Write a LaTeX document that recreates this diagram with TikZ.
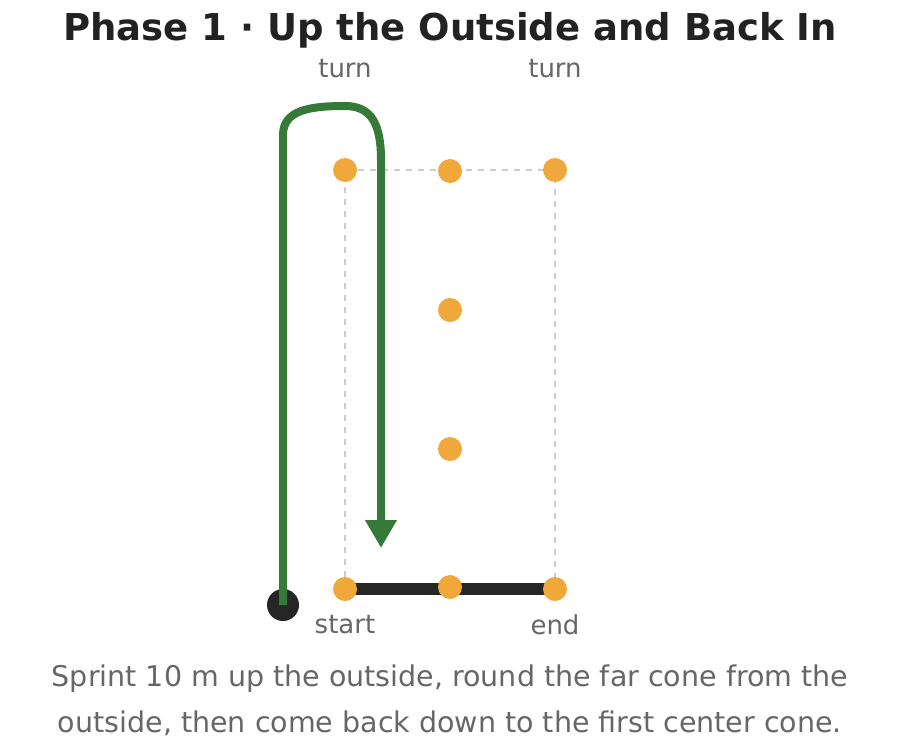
\documentclass[tikz,border=0pt]{standalone}
\usepackage{fontspec}
\setmainfont{DejaVu Sans}
\usetikzlibrary{arrows.meta, positioning}
\definecolor{coneorange}{HTML}{F0A83A}
\definecolor{pathgreen}{HTML}{357A38}
\definecolor{labelgray}{HTML}{666666}
\definecolor{titleblack}{HTML}{222222}
\begin{document}
\begin{tikzpicture}[
    x=1pt, y=-1pt,
    cone/.style={circle, fill=coneorange, minimum size=24pt, inner sep=0pt},
    lbl/.style={text=labelgray, font=\fontsize{26}{30}\selectfont},
    route/.style={draw=pathgreen, line width=8pt, line join=round}
]
\useasboundingbox (0,0) rectangle (900,755);

% Title
\node (title) [font=\fontsize{37}{42}\selectfont\bfseries, text=titleblack] at (450,30) {Phase 1 · Up the Outside and Back In};

% Grid outline
\draw[gray!40, line width=2.5pt, dash pattern=on 6pt off 6pt] (345,589) -- (345,170) -- (555,170) -- (555,589);
\draw[black!85, line width=12pt] (345,589) -- (555,589);

% Cones
\node (startCone) [cone] at (345,589) {};
\node (midBottom) [cone] at (450,587) {};
\node (endCone) [cone] at (555,589) {};
\node (midLow) [cone] at (450,449) {};
\node (midHigh) [cone] at (450,310) {};
\node (farLeft) [cone] at (345,170) {};
\node (farMid) [cone] at (450,171) {};
\node (farRight) [cone] at (555,170) {};

% Runner
\node (runner) [circle, fill=black!85, minimum size=32pt, inner sep=0pt] at (283,605) {};
\coordinate (stop) at (381,548);

% Route
\draw[route] (runner.center) -- (283,135) .. controls (283,110) and (310,106) .. (345,106)
    .. controls (372,106) and (381,125) .. (381,160) -- (381,520);
\draw[route, -{Triangle[length=28pt, width=30pt]}] (381,515) -- (stop);

% Labels
\node [lbl] at (345,69) {turn};
\node [lbl] at (555,69) {turn};
\node [lbl] at (345,625) {start};
\node [lbl] at (555,625) {end};

% Caption
\node (caption) [text=labelgray, font=\fontsize{28.5}{46}\selectfont, align=center] at (450,700)
    {Sprint 10 m up the outside, round the far cone from the\\outside, then come back down to the first center cone.};
\end{tikzpicture}
\end{document}
